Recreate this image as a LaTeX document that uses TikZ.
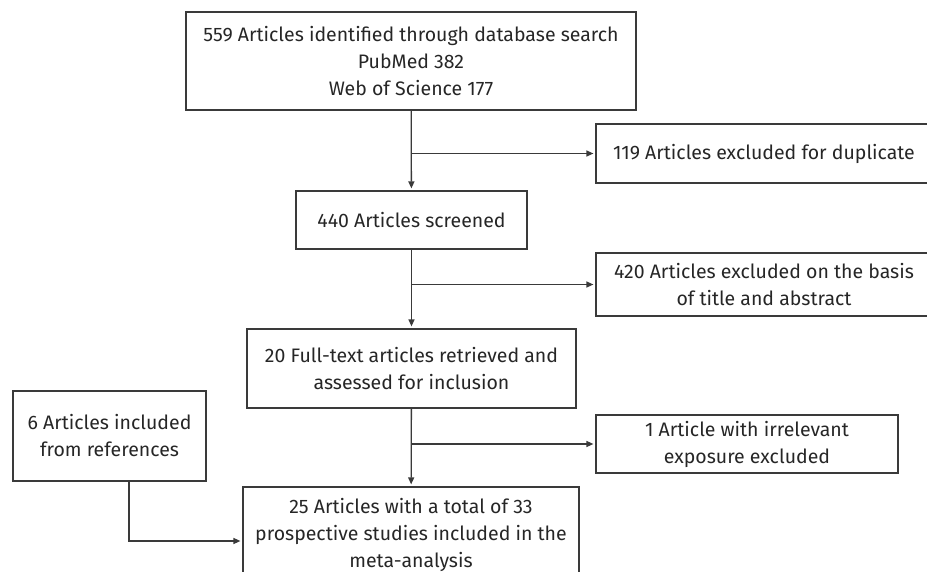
\documentclass[tikz,border=0pt]{standalone}
\usepackage{fontspec}
\setmainfont{Fira Sans}
\usepackage{tikz}
\usetikzlibrary{arrows.meta}
\definecolor{linha}{HTML}{3A3A3A}
\definecolor{texto}{HTML}{262626}

\begin{document}
\begin{tikzpicture}[
    x=1pt, y=-1pt,
    every node/.style={draw=linha, line width=1.2pt, align=center, inner sep=0pt,
      text=texto, font=\fontsize{19.5}{27}\selectfont},
    seta/.style={draw=linha, line width=1.3pt, shorten >=2pt,
      -{Triangle[length=7pt,width=6pt]}}
  ]
  \tikzset{
    caixa/.style 2 args={minimum width=#1pt, minimum height=#2pt}
  }
  \useasboundingbox (0,0) rectangle (927,572);

  % main column
  \node[caixa={450}{98}] (busca) at (411,61)
    {559 Articles identified through database search\\PubMed 382\\Web of Science 177};
  \node[caixa={231}{58}] (triagem) at (411.5,220) {440 Articles screened};
  \node[caixa={329}{79}] (completo) at (411.5,368.5)
    {20 Full-text articles retrieved and\\assessed for inclusion};
  \node[caixa={336}{96}] (incluido) at (411,535)
    {25 Articles with a total of 33\\prospective studies included in the\\meta-analysis};

  % side boxes
  \node[caixa={336}{59}] (duplicado) at (764,153.5) {119 Articles excluded for duplicate};
  \node[caixa={336}{63}] (resumo) at (764,284.5)
    {420 Articles excluded on the basis\\of title and abstract};
  \node[caixa={302}{58}] (irrelevante) at (747,444)
    {1 Article with irrelevant\\exposure excluded};
  \node[caixa={193}{90}] (referencias) at (109.5,436)
    {6 Articles included\\from references};

  % connectors
  \draw[seta] (busca) -- (triagem);
  \draw[seta] (triagem) -- (completo);
  \draw[seta] (completo) -- (incluido);
  \draw[seta] (busca.south |- duplicado.west) -- (duplicado.west);
  \draw[seta] (busca.south |- resumo.west) -- (resumo.west);
  \draw[seta] (busca.south |- irrelevante.west) -- (irrelevante.west);
  \draw[seta] ([xshift=19.5pt]referencias.south) |- ([yshift=-6pt]incluido.west);
\end{tikzpicture}
\end{document}
